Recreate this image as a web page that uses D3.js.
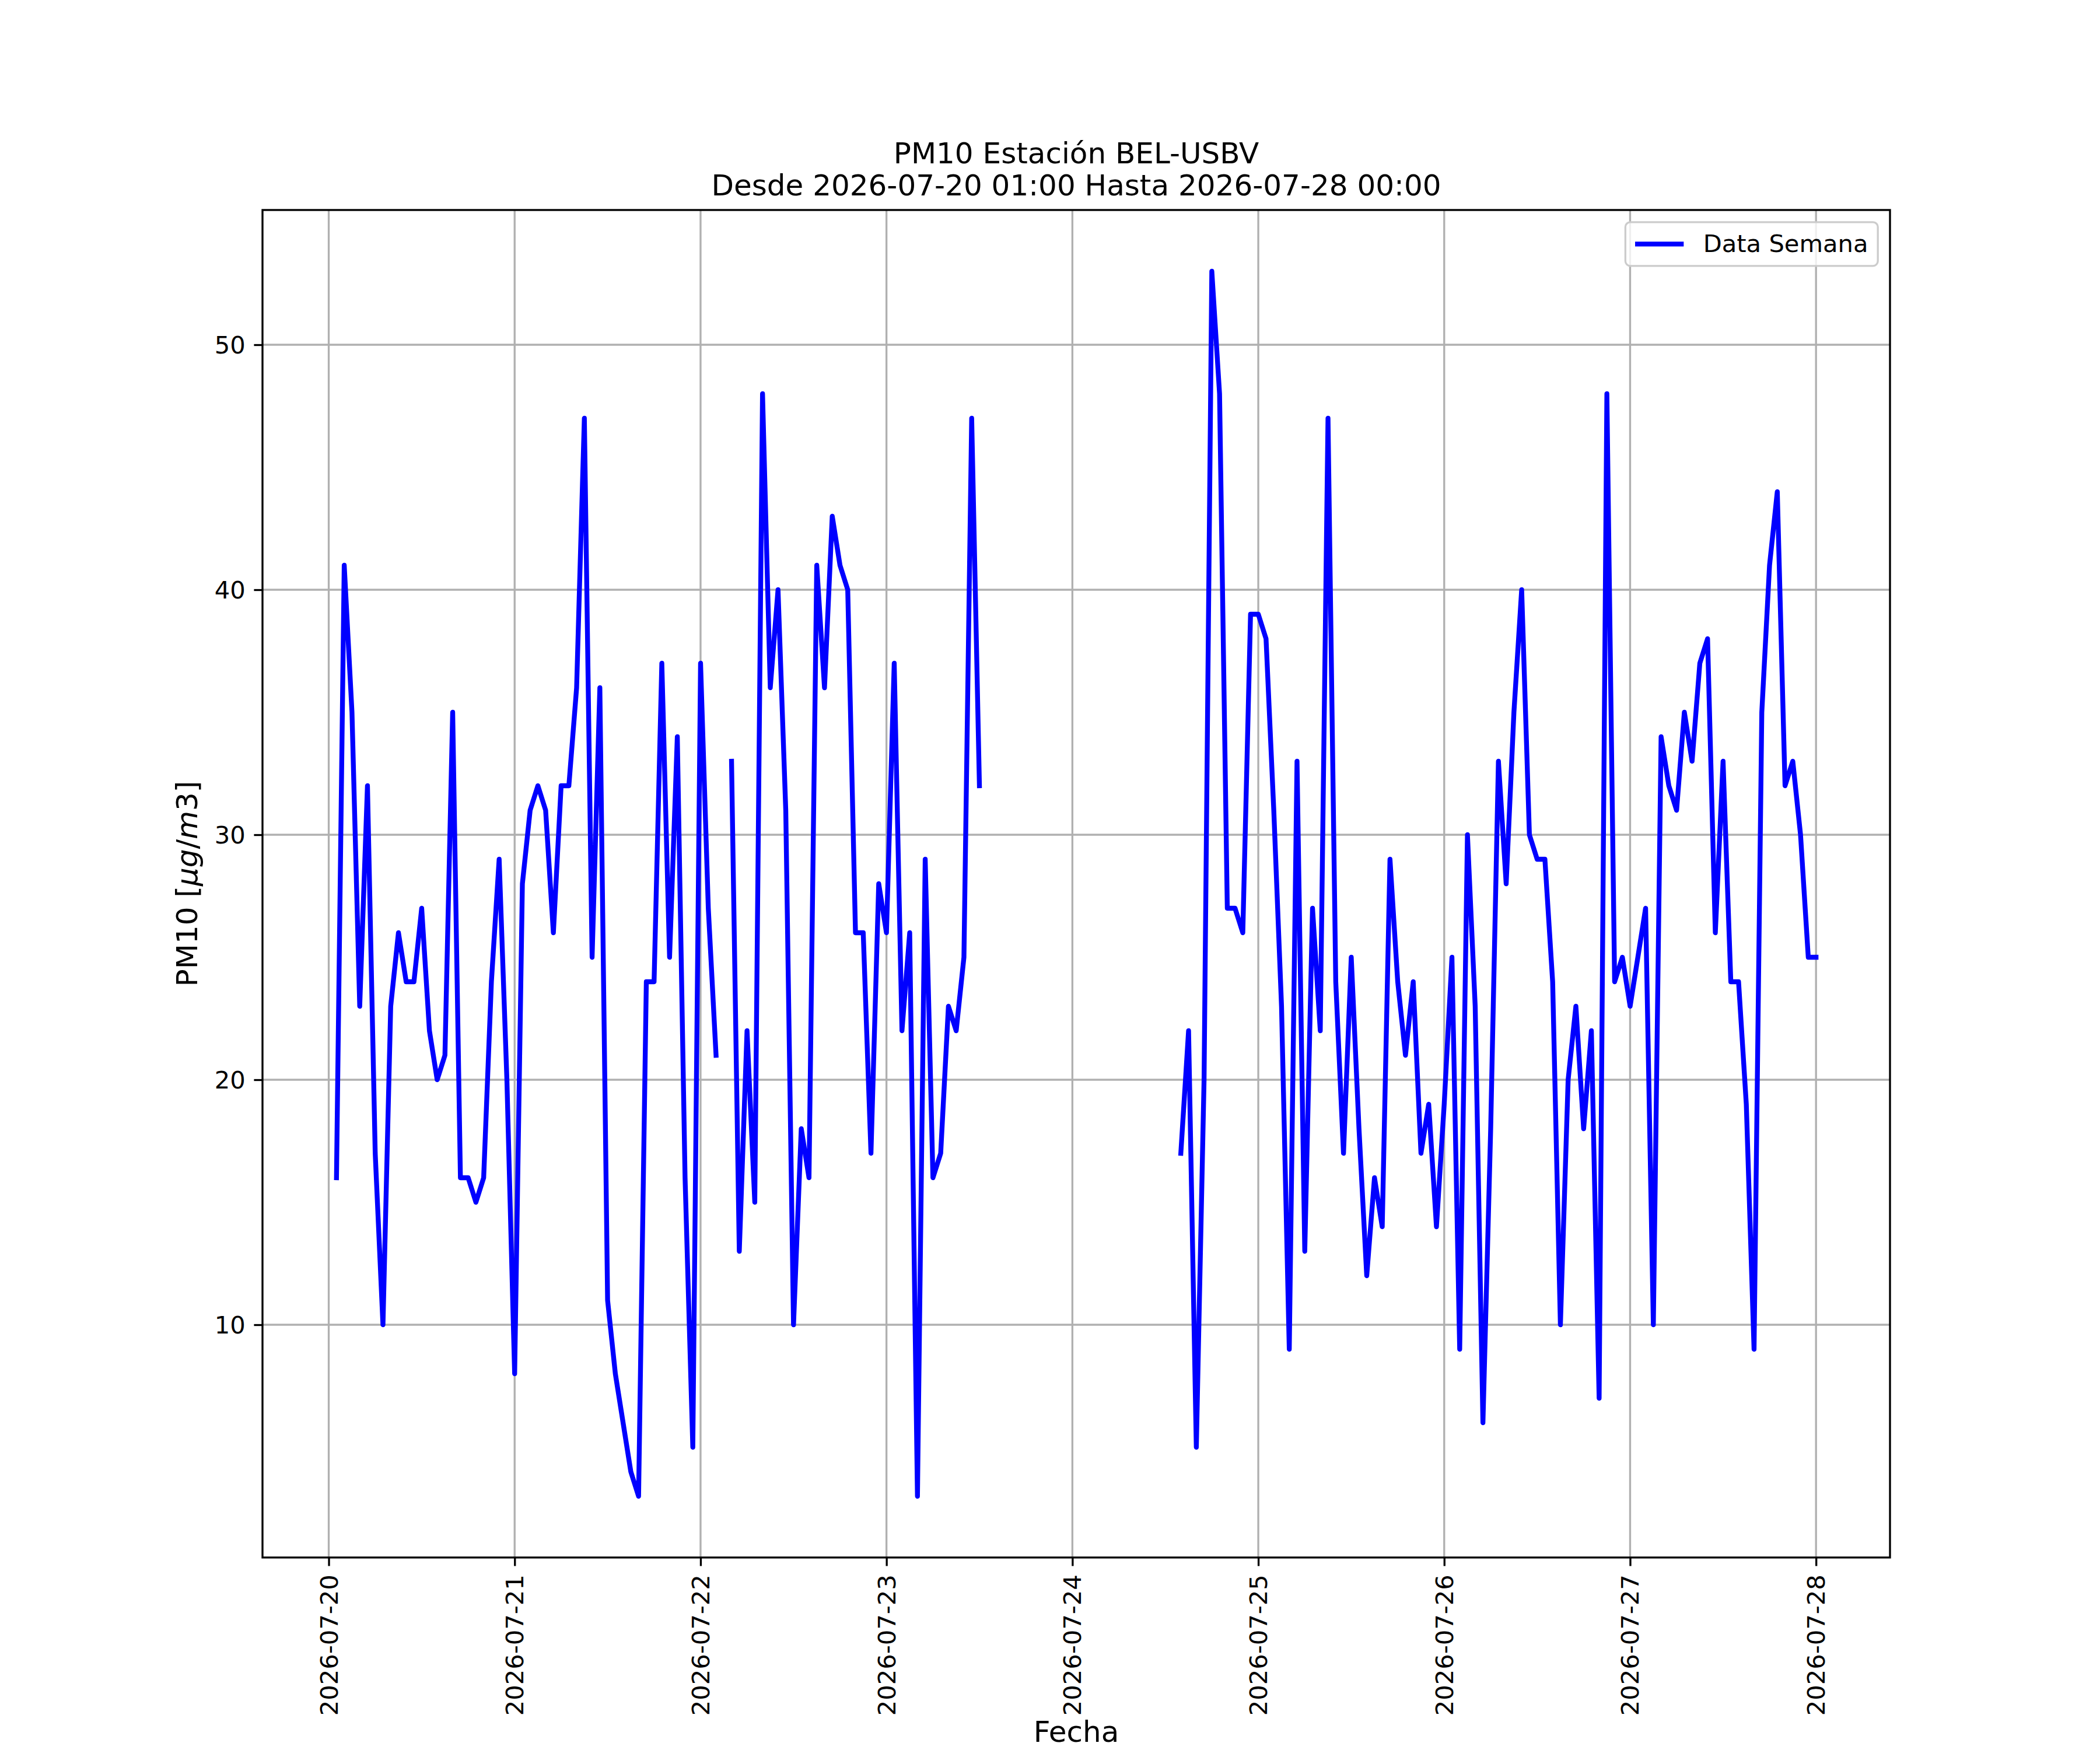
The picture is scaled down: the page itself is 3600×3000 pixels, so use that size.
<!DOCTYPE html>
<html>
<head>
<meta charset="utf-8">
<script src="https://cdn.jsdelivr.net/npm/d3@7"></script>
<style>
  html, body { margin: 0; padding: 0; background: #ffffff; }
  svg { display: block; }
  text { font-family: "DejaVu Sans", sans-serif; fill: #000; }
</style>
</head>
<body>
<svg id="chart" width="3600" height="3000"></svg>
<script>
// ---------------- DATA ----------------
const titleLines = ["PM10 Estación BEL-USBV", "Desde 2026-07-20 01:00 Hasta 2026-07-28 00:00"];
const seriesName = "Data Semana";
const xLabel = "Fecha";
const startTime = "2026-07-20T01:00:00Z";   // first hourly reading
// hourly PM10 values (µg/m3); null = missing
const day20 = [16,41,35,23,32,17,10,23,26,24,24,27,22,20,21,35,16,16,15,16,24,29,20];          // 01:00-23:00
const day21 = [8,28,31,32,31,26,32,32,36,47,25,36,11,8,6,4,3,24,24,37,25,34,16,5];
const day22 = [37,27,21,null,33,13,22,15,48,36,40,31,10,18,16,41,36,43,41,40,26,26,17,28];
const day23 = [26,37,22,26,3,29,16,17,23,22,25,47,32,null,null,null,null,null,null,null,null,null,null,null];
const day24 = [null,null,null,null,null,null,null,null,null,null,null,null,null,null,17,22,5,20,53,48,27,27,26,39];
const day25 = [39,38,31,23,9,33,13,27,22,47,24,17,25,18,12,16,14,29,24,21,24,17,19,14];
const day26 = [19,25,9,30,23,6,18,33,28,35,40,30,29,29,24,10,20,23,18,22,7,48,24,25];
const day27 = [23,25,27,10,34,32,31,35,33,37,38,26,33,24,24,19,9,35,41,44,32,33,30,25];
const day28 = [25];                                                                              // 00:00
const yTicks = [10, 20, 30, 40, 50];
const xTickDates = ["2026-07-20","2026-07-21","2026-07-22","2026-07-23","2026-07-24","2026-07-25","2026-07-26","2026-07-27","2026-07-28"];

// ---------------- BUILD ----------------
const values = [].concat(day20, day21, day22, day23, day24, day25, day26, day27, day28);
const t0 = new Date(startTime).getTime();
const data = values.map((v, i) => ({ t: new Date(t0 + i * 3600 * 1000), v: v }));

const W = 3600, H = 3000;
const L = 450, R = 3240, T = 360, B = 2670;
const px = pt => pt * 300 / 72;

const svg = d3.select("#chart");
svg.append("rect").attr("width", W).attr("height", H).attr("fill", "#fff");

// matplotlib-like 5% margins
const tExt = d3.extent(data, d => d.t.getTime());
const tPad = (tExt[1] - tExt[0]) * 0.05;
const valid = data.filter(d => d.v != null);
const vExt = d3.extent(valid, d => d.v);
const vPad = (vExt[1] - vExt[0]) * 0.05;

const x = d3.scaleUtc().domain([new Date(tExt[0] - tPad), new Date(tExt[1] + tPad)]).range([L, R]);
const y = d3.scaleLinear().domain([vExt[0] - vPad, vExt[1] + vPad]).range([B, T]);

const xTicks = xTickDates.map(s => new Date(s + "T00:00:00Z"));

// grid
const grid = svg.append("g");
grid.selectAll("line.gx").data(xTicks).enter().append("line")
  .attr("x1", d => x(d)).attr("x2", d => x(d)).attr("y1", T).attr("y2", B)
  .attr("stroke", "#b0b0b0").attr("stroke-width", px(0.8));
grid.selectAll("line.gy").data(yTicks).enter().append("line")
  .attr("x1", L).attr("x2", R).attr("y1", d => y(d)).attr("y2", d => y(d))
  .attr("stroke", "#b0b0b0").attr("stroke-width", px(0.8));

// clip
svg.append("clipPath").attr("id", "clip").append("rect")
  .attr("x", L).attr("y", T).attr("width", R - L).attr("height", B - T);

// line
const line = d3.line().defined(d => d.v != null).x(d => x(d.t)).y(d => y(d.v));
svg.append("path").datum(data)
  .attr("clip-path", "url(#clip)")
  .attr("d", line)
  .attr("fill", "none").attr("stroke", "#0000ff")
  .attr("stroke-width", px(2))
  .attr("stroke-linejoin", "round").attr("stroke-linecap", "square");

// axes
const fmt = d3.utcFormat("%Y-%m-%d");
const xAxis = d3.axisBottom(x).tickValues(xTicks).tickFormat(fmt)
  .tickSize(px(3.5)).tickPadding(px(3.5));
const gx = svg.append("g").attr("transform", `translate(0,${B})`).call(xAxis);
gx.select(".domain").remove();
gx.selectAll(".tick line").attr("stroke", "#000").attr("stroke-width", px(0.8));
gx.selectAll(".tick text")
  .attr("font-size", px(10)).attr("font-family", "DejaVu Sans")
  .attr("text-anchor", "end")
  .attr("dy", null)
  .attr("y", 0)
  .attr("x", 0)
  .attr("transform", `translate(0,${px(3.5) + px(3.5)}) rotate(-90)`)
  .attr("dominant-baseline", "central");

const yAxis = d3.axisLeft(y).tickValues(yTicks).tickFormat(d3.format("d"))
  .tickSize(px(3.5)).tickPadding(px(3.5));
const gy = svg.append("g").attr("transform", `translate(${L},0)`).call(yAxis);
gy.select(".domain").remove();
gy.selectAll(".tick line").attr("stroke", "#000").attr("stroke-width", px(0.8));
gy.selectAll(".tick text").attr("font-size", px(10)).attr("font-family", "DejaVu Sans")
  .attr("dy", "0.35em");

// spines
svg.append("rect").attr("x", L).attr("y", T).attr("width", R - L).attr("height", B - T)
  .attr("fill", "none").attr("stroke", "#000").attr("stroke-width", px(0.8));

// title
const cx = (L + R) / 2;
svg.append("text").attr("x", cx).attr("y", 280).attr("text-anchor", "middle")
  .attr("font-size", px(12)).text(titleLines[0]);
svg.append("text").attr("x", cx).attr("y", 335).attr("text-anchor", "middle")
  .attr("font-size", px(12)).text(titleLines[1]);

// x label
svg.append("text").attr("x", cx).attr("y", 2986).attr("text-anchor", "middle")
  .attr("font-size", px(12)).text(xLabel);

// y label with italic math part
const yl = svg.append("text")
  .attr("transform", `translate(338,${(T + B) / 2}) rotate(-90)`)
  .attr("text-anchor", "middle").attr("font-size", px(12));
yl.append("tspan").text("PM10 [");
yl.append("tspan").attr("font-style", "italic").text("μg");
yl.append("tspan").text("/");
yl.append("tspan").attr("font-style", "italic").text("m");
yl.append("tspan").text("3]");

// legend
const fs = px(10);
const legG = svg.append("g");
const box = legG.append("rect");
const lt = legG.append("text").attr("font-size", fs).text(seriesName);
const tw = lt.node().getComputedTextLength();
const pad = 0.5 * fs, bpad = 0.4 * fs, hl = 2.0 * fs, htp = 0.8 * fs;
const bw = bpad + hl + htp + tw + bpad;
const bh = 75;
const bx = R - pad - bw, by = T + pad;
box.attr("x", bx).attr("y", by).attr("width", bw).attr("height", bh)
  .attr("rx", 0.2 * fs).attr("ry", 0.2 * fs)
  .attr("fill", "rgba(255,255,255,0.8)").attr("stroke", "#cccccc").attr("stroke-width", px(0.8));
const midY = by + bh / 2;
legG.append("line").attr("x1", bx + bpad).attr("x2", bx + bpad + hl)
  .attr("y1", midY).attr("y2", midY)
  .attr("stroke", "#0000ff").attr("stroke-width", px(2));
lt.attr("x", bx + bpad + hl + htp).attr("y", midY).attr("dy", "0.32em");
</script>
</body>
</html>
